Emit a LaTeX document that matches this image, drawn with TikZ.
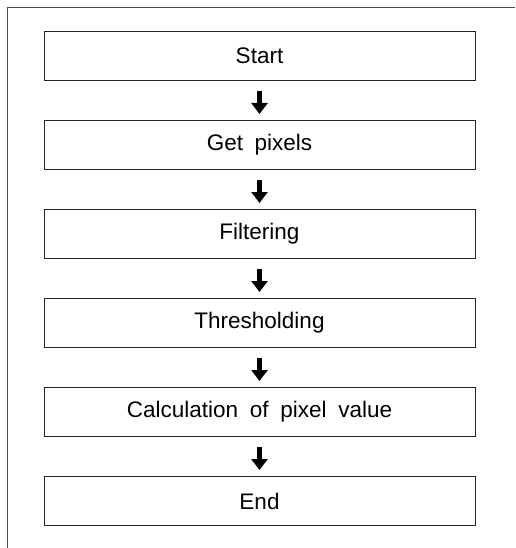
\documentclass[tikz,border=0pt]{standalone}
\usepackage{fontspec}
\setmainfont{Liberation Sans}
\newfontfamily\boxfont[WordSpace=1.87]{Liberation Sans}
\usepackage{tikz}
\usetikzlibrary{positioning,arrows.meta}

\begin{document}
\begin{tikzpicture}[x=1pt,y=1pt,
	stepbox/.style={draw=black!85,line width=1pt,rectangle,minimum width=431pt,minimum height=49pt,inner sep=0pt,font=\boxfont\fontsize{22.5}{26}\selectfont},
	flow/.style={-{Triangle[width=16pt,length=11pt]},line width=5pt,shorten <=10pt,shorten >=6pt}]
	\useasboundingbox (0,0) rectangle (515,-548);
	% Rahmen
	\draw[black!70,line width=1pt] (515,-8) -- (7.5,-8) -- (7.5,-548);
	% Schritte
	\node[stepbox] (start) at (259.5,-56) {Start};
	\node[stepbox, below=39pt of start] (pixels) {Get pixels};
	\node[stepbox, below=39pt of pixels] (filter) {Filtering};
	\node[stepbox, below=39pt of filter] (thresh) {Thresholding};
	\node[stepbox, below=39pt of thresh] (calc) {Calculation of pixel value};
	\node[stepbox, below=39pt of calc] (end) {End};
	
	% Pfeile
	\draw[flow] (start) -- (pixels);
	\draw[flow] (pixels) -- (filter);
	\draw[flow] (filter) -- (thresh);
	\draw[flow] (thresh) -- (calc);
	\draw[flow] (calc) -- (end);
\end{tikzpicture}
\end{document}
